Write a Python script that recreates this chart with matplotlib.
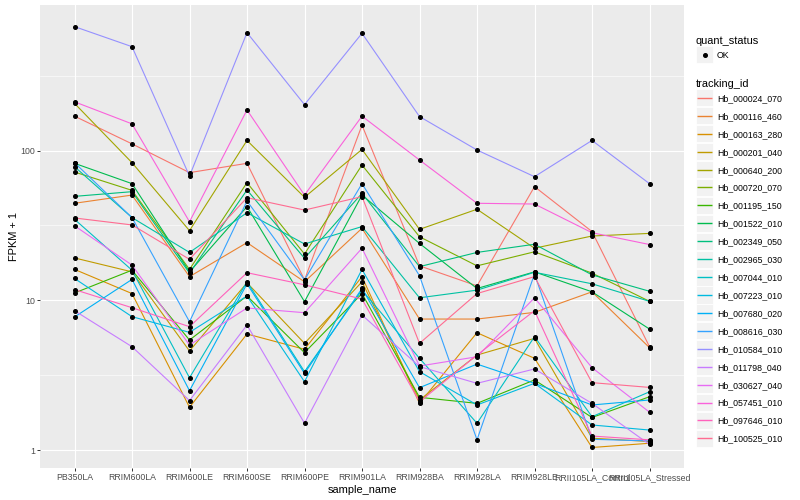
import matplotlib
matplotlib.use("Agg")
import matplotlib.pyplot as plt
from matplotlib.lines import Line2D
from matplotlib.patches import Rectangle
from matplotlib.legend_handler import HandlerBase
from matplotlib.ticker import FixedLocator, NullFormatter, FuncFormatter

plt.rcParams['font.family'] = ['Liberation Sans', 'DejaVu Sans']

samples = ["PB350LA", "RRIM600LA", "RRIM600LE", "RRIM600SE", "RRIM600PE",
           "RRIM901LA", "RRIM928BA", "RRIM928LA", "RRIM928LE",
           "RRII105LA_Control", "RRII105LA_Stressed"]

tracking_ids = ["Hb_000024_070", "Hb_000116_460", "Hb_000163_280", "Hb_000201_040",
                "Hb_000640_200", "Hb_000720_070", "Hb_001195_150", "Hb_001522_010",
                "Hb_002349_050", "Hb_002965_030", "Hb_007044_010", "Hb_007223_010",
                "Hb_007680_020", "Hb_008616_030", "Hb_010584_010", "Hb_011798_040",
                "Hb_030627_040", "Hb_057451_010", "Hb_097646_010", "Hb_100525_010"]

colors = ["#F8766D", "#EA8331", "#D89000", "#C09B00", "#A3A500", "#7CAE00",
          "#39B600", "#00BB4E", "#00BF7D", "#00C1A3", "#00BFC4", "#00BAE0",
          "#00B0F6", "#35A2FF", "#9590FF", "#C77CFF", "#E76BF3", "#FA62DB",
          "#FF62BC", "#FF6C91"]

# FPKM + 1 values per tracking id, in sample order
hb_000024_070 = [170, 111, 71.3, 82.3, 13.7, 148, 17.0, 12.5, 57.5, 28.8, 4.90]
hb_000116_460 = [44.5, 50.5, 14.4, 24.3, 13.3, 30.3, 7.50, 7.50, 8.31, 11.4, 4.83]
hb_000163_280 = [16.1, 11.1, 1.93, 5.96, 4.71, 14.4, 2.05, 6.08, 4.10, 1.04, 1.11]
hb_000201_040 = [19.2, 15.5, 4.59, 13.1, 5.16, 13.3, 2.16, 4.31, 5.57, 1.20, 1.14]
hb_000640_200 = [207, 83.1, 29.2, 117, 48.8, 102, 29.8, 40.6, 22.3, 26.9, 28.0]
hb_000720_070 = [72.0, 54.3, 16.1, 61.1, 20.4, 80.2, 26.6, 17.0, 21.1, 15.2, 9.85]
hb_001195_150 = [11.2, 15.9, 5.43, 10.7, 4.47, 11.1, 2.25, 2.05, 2.94, 1.65, 2.27]
hb_001522_010 = [82.3, 60.2, 15.5, 42.3, 9.80, 50.5, 24.0, 12.0, 15.5, 11.4, 6.43]
hb_002349_050 = [49.5, 53.2, 15.2, 54.6, 19.1, 51.9, 16.8, 20.9, 23.7, 14.8, 11.5]
hb_002965_030 = [78.2, 35.7, 20.9, 38.5, 23.8, 31.1, 10.4, 11.7, 15.4, 12.9, 9.85]
hb_007044_010 = [34.8, 15.9, 3.04, 13.3, 3.34, 11.7, 4.10, 1.51, 5.72, 1.67, 2.45]
hb_007223_010 = [14.0, 7.78, 6.11, 10.7, 2.86, 16.1, 3.34, 2.00, 2.79, 1.47, 1.36]
hb_007680_020 = [7.74, 13.8, 2.49, 12.9, 3.25, 12.0, 2.61, 3.75, 2.79, 2.00, 2.16]
hb_008616_030 = [83.1, 35.7, 7.20, 46.1, 13.7, 60.2, 14.6, 1.17, 15.0, 1.18, 1.15]
hb_010584_010 = [674, 495, 67.7, 614, 203, 608, 169, 101, 67.0, 117, 60.2]
hb_011798_040 = [8.53, 4.90, 2.14, 6.84, 1.51, 7.98, 3.61, 2.79, 3.48, 2.05, 1.09]
hb_030627_040 = [31.5, 17.2, 5.03, 8.89, 8.27, 22.3, 3.64, 4.20, 10.4, 3.55, 1.79]
hb_057451_010 = [212, 151, 33.5, 187, 50.5, 170, 86.6, 44.5, 44.0, 28.3, 23.6]
hb_097646_010 = [11.8, 8.93, 6.67, 15.3, 12.7, 10.2, 2.10, 4.31, 8.53, 1.24, 1.17]
hb_100525_010 = [35.5, 31.9, 18.8, 48.5, 40.1, 49.3, 5.16, 11.1, 14.4, 2.82, 2.62]

series = [hb_000024_070, hb_000116_460, hb_000163_280, hb_000201_040, hb_000640_200,
          hb_000720_070, hb_001195_150, hb_001522_010, hb_002349_050, hb_002965_030,
          hb_007044_010, hb_007223_010, hb_007680_020, hb_008616_030, hb_010584_010,
          hb_011798_040, hb_030627_040, hb_057451_010, hb_097646_010, hb_100525_010]

fig = plt.figure(figsize=(8, 5), dpi=100)
ax = fig.add_axes([40 / 800, 1 - 468 / 500, (684 - 40) / 800, (468 - 5) / 500])
ax.set_facecolor('#EBEBEB')
ax.set_yscale('log')

xs = list(range(len(samples)))
for vals, col in zip(series, colors):
    ax.plot(xs, vals, color=col, lw=0.8, zorder=2, solid_capstyle='butt')
for vals in series:
    ax.plot(xs, vals, ls='none', marker='o', ms=2.6, color='black', zorder=3)

ax.set_xlim(-0.6, len(samples) - 0.4)
ax.set_ylim(10 ** -0.12, 10 ** 2.973)
ax.set_xticks(xs)
ax.set_xticklabels(samples)
ax.yaxis.set_major_locator(FixedLocator([1, 10, 100]))
ax.yaxis.set_minor_locator(FixedLocator([10 ** 0.5, 10 ** 1.5, 10 ** 2.5]))
ax.yaxis.set_major_formatter(FuncFormatter(lambda v, p: f"{v:g}"))
ax.yaxis.set_minor_formatter(NullFormatter())
ax.set_axisbelow(True)
ax.grid(which='major', color='white', lw=0.8)
ax.grid(which='minor', axis='y', color='white', lw=0.4)
ax.tick_params(which='minor', length=0)
ax.tick_params(which='major', length=2.0, width=0.7, color='#333333',
               labelsize=6.3, labelcolor='#4D4D4D', pad=1.5)
for s in ax.spines.values():
    s.set_visible(False)
ax.set_xlabel('sample_name', fontsize=7.9, labelpad=2)
ax.set_ylabel('FPKM + 1', fontsize=7.9, labelpad=1)


class BoxedKey(HandlerBase):
    """ggplot-like legend key: grey box with a centred line or point."""
    def create_artists(self, legend, orig_handle, xdescent, ydescent, width,
                       height, fontsize, trans):
        yc = 0.36 * fontsize
        rect = Rectangle((-xdescent, yc - height / 2), width, height,
                         facecolor='#F2F2F2', edgecolor='white', lw=0.6,
                         transform=trans)
        if orig_handle.get_linestyle() in ('None', 'none', ''):
            mark = Line2D([width / 2 - xdescent], [yc], ls='none',
                          marker=orig_handle.get_marker(),
                          ms=orig_handle.get_markersize(),
                          color=orig_handle.get_color(), transform=trans)
        else:
            pad = 1.0
            mark = Line2D([-xdescent + pad, width - xdescent - pad], [yc, yc],
                          color=orig_handle.get_color(),
                          lw=orig_handle.get_linewidth(), transform=trans,
                          solid_capstyle='butt')
            mark.set_snap(True)
        return [rect, mark]


common = dict(frameon=False, handlelength=1.95, handleheight=2.62,
              handletextpad=0.45, labelspacing=0.1, borderpad=0,
              borderaxespad=0, fontsize=6.3, title_fontsize=7.9,
              alignment='left', loc='upper left')

pt_handle = Line2D([], [], ls='none', marker='o', ms=2.6, color='black')
leg1 = fig.legend([pt_handle], ["OK"], title="quant_status",
                  bbox_to_anchor=(696 / 800, 1 - 36 / 500),
                  handler_map={Line2D: BoxedKey()}, **common)

line_handles = [Line2D([], [], color=c, lw=1.0) for c in colors]
leg2 = fig.legend(line_handles, tracking_ids, title="tracking_id",
                  bbox_to_anchor=(696 / 800, 1 - 79 / 500),
                  handler_map={Line2D: BoxedKey()}, **common)

fig.savefig("out.png", dpi=100)
